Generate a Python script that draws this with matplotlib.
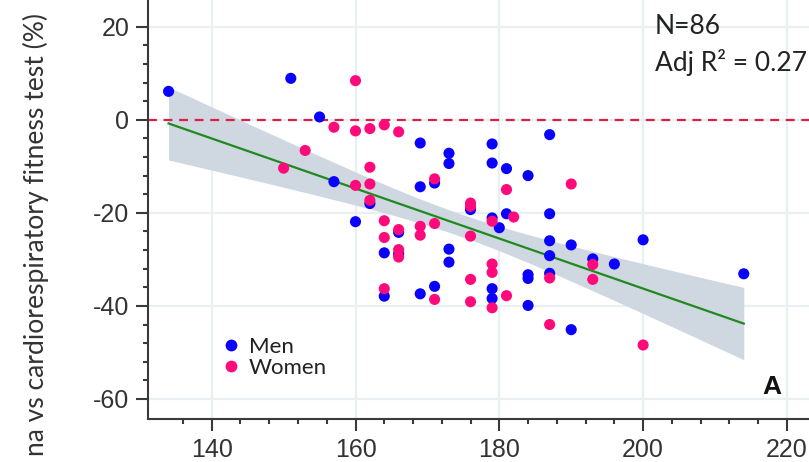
import numpy as np
import matplotlib
matplotlib.use("Agg")
import matplotlib.pyplot as plt
from matplotlib.lines import Line2D

# ---- data ----
men_x = [134, 151, 155, 157, 160, 162, 164, 164, 166, 166, 169, 169, 169, 171, 171,
         173, 173, 173, 173, 176, 179, 179, 179, 179, 179, 180, 181, 181, 184, 184,
         184, 184, 187, 187, 187, 187, 187, 190, 190, 193, 196, 200, 214]
men_y = [6.1, 8.9, 0.6, -13.3, -21.9, -18.0, -28.6, -37.9, -24.2, -28.8, -5.0, -14.4, -37.4, -13.6, -35.8,
         -7.2, -9.4, -27.8, -30.6, -19.3, -5.2, -9.3, -21.1, -36.3, -38.4, -23.2, -10.5, -20.2, -12.0, -33.3,
         -34.1, -39.9, -3.2, -20.2, -26.0, -29.2, -33.0, -26.9, -45.1, -29.9, -31.0, -25.8, -33.1]
women_x = [150, 153, 157, 160, 160, 160, 162, 162, 162, 162, 164, 164, 164, 164, 166,
           166, 166, 166, 169, 169, 171, 171, 171, 176, 176, 176, 176, 176, 179, 179,
           179, 179, 181, 182, 181, 187, 187, 190, 193, 193, 200]
women_y = [-10.4, -6.6, -1.6, 8.4, -2.4, -14.1, -1.9, -10.2, -13.8, -17.3, -1.1, -21.7, -25.3, -36.3, -2.6,
           -23.6, -27.9, -29.5, -22.9, -24.8, -12.7, -22.3, -38.6, -17.9, -18.6, -25.0, -34.3, -39.1, -21.8, -31.0,
           -32.8, -40.4, -15.0, -20.9, -37.8, -34.0, -44.0, -13.8, -31.1, -34.3, -48.4]
# fitted line as shown in the reference (value at the two ends of the x range)
fit_x_ends = [134, 214]
fit_y_ends = [-0.8, -43.8]
group_labels = ["Men", "Women"]
n_text = "N=86"
r2_text = "Adj R\u00b2 = 0.27"
panel_label = "A"
ylabel_text = "na vs cardiorespiratory fitness test (%)"
x_ticks = [140, 160, 180, 200, 220]
y_ticks = [-60, -40, -20, 0, 20]

# ---- regression line and 95% CI band ----
X = np.array(men_x + women_x, float)
Y = np.array(men_y + women_y, float)
n = len(X)
slope = (fit_y_ends[1] - fit_y_ends[0]) / (fit_x_ends[1] - fit_x_ends[0])
intercept = fit_y_ends[0] - slope * fit_x_ends[0]
resid = Y - (slope * X + intercept)
s = np.sqrt(np.sum(resid ** 2) / (n - 2))
xbar = X.mean()
sxx = np.sum((X - xbar) ** 2)
t = 1.99
xs = np.linspace(fit_x_ends[0], fit_x_ends[1], 200)
ys = slope * xs + intercept
hw = t * s * np.sqrt(1.0 / n + (xs - xbar) ** 2 / sxx)

# ---- figure ----
W, H = 809, 462
fig = plt.figure(figsize=(W / 100, H / 100), dpi=100)
xmin, xmax = 131.14, 226.0
ymin, ymax = -64.3, 26.0
pxx = 7.19
pxy = 4.654
left_px, bottom_px = 148, 419
ax = fig.add_axes([left_px / W, (H - bottom_px) / H,
                   (xmax - xmin) * pxx / W, (ymax - ymin) * pxy / H])
ax.set_xlim(xmin, xmax)
ax.set_ylim(ymin, ymax)

ax.set_axisbelow(True)
ax.grid(True, which="major", color="#e9f0f3", linewidth=1.6)

ax.fill_between(xs, ys - hw, ys + hw, color="#cfd7e0", linewidth=0, zorder=1)
ax.axhline(0, color="#d8204a", linestyle=(0, (4, 3)), linewidth=1.6, zorder=2)
ax.plot(xs, ys, color="#1e8a1e", linewidth=1.6, zorder=3)

ax.scatter(men_x, men_y, s=64, color="#0a00ff", edgecolors="none", zorder=4)
ax.scatter(women_x, women_y, s=64, color="#ff0a7a", edgecolors="none", zorder=5)

for side in ("top", "right"):
    ax.spines[side].set_visible(False)
for side in ("left", "bottom"):
    ax.spines[side].set_color("#3a3a3a")
    ax.spines[side].set_linewidth(1.5)

ax.set_xticks(x_ticks)
ax.set_yticks(y_ticks)
ax.set_xticks(np.arange(136, 224, 4), minor=True)
ax.set_yticks(np.arange(-60, 21, 4), minor=True)
ax.tick_params(which="major", length=8.5, width=1.5, color="#3a3a3a",
               labelsize=18, labelcolor="#333333", pad=5)
ax.tick_params(which="minor", length=3.8, width=1.5, color="#3a3a3a")
ax.set_xticklabels([str(v) for v in x_ticks], family="Liberation Sans")
ax.set_yticklabels([str(v) for v in y_ticks], family="Liberation Sans")

handles = [Line2D([], [], linestyle="none", marker="o", markersize=8.5,
                  markerfacecolor="#0a00ff", markeredgecolor="none"),
           Line2D([], [], linestyle="none", marker="o", markersize=8.5,
                  markerfacecolor="#ff0a7a", markeredgecolor="none")]
leg = ax.legend(handles, group_labels, loc="upper left",
                bbox_to_anchor=(222 / W, 1 - 337 / H), bbox_transform=fig.transFigure,
                frameon=False, handlelength=0.8, handletextpad=0.4, borderpad=0,
                borderaxespad=0, labelspacing=0.05, prop={"family": "Lato", "size": 16})
for txt in leg.get_texts():
    txt.set_color("#222222")

fig.text(655 / W, 1 - 34 / H, n_text, family="Lato", fontsize=19, color="#222222", va="baseline")
fig.text(655 / W, 1 - 71 / H, r2_text, family="Lato", fontsize=19, color="#222222", va="baseline")
fig.text(772 / W, 1 - 387 / H, panel_label, family="Liberation Sans", fontweight="bold",
         fontsize=19, color="#111111", ha="center", va="center")
fig.text(36 / W, 1 - 13 / H, ylabel_text, family="Lato", fontsize=19.1, color="#333333",
         rotation=90, ha="center", va="top")

fig.savefig("out.png", dpi=100)
